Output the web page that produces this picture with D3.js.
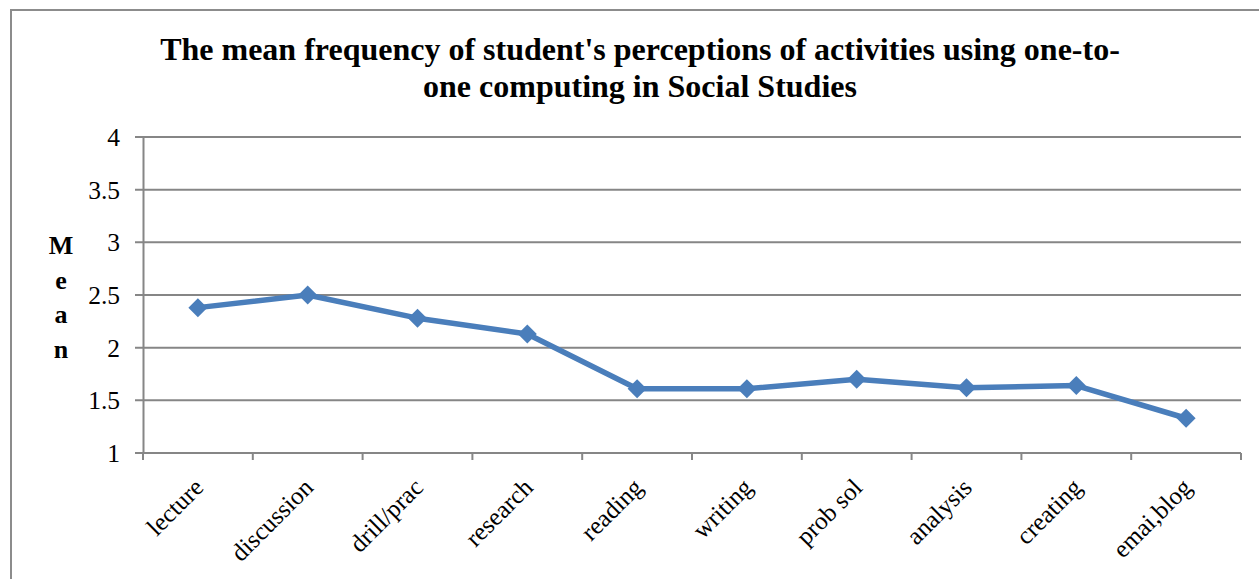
<!DOCTYPE html>
<html>
<head>
<meta charset="utf-8">
<script src="https://cdn.jsdelivr.net/npm/d3@7"></script>
<style>
  html, body { margin: 0; padding: 0; background: #fff; }
  svg { display: block; font-family: "Liberation Serif", "Times New Roman", serif; }
</style>
</head>
<body>
<svg id="chart" width="1259" height="579"></svg>
<script>
// Activities and their mean frequency ratings
const categories = ["lecture", "discussion", "drill/prac", "research", "reading",
                    "writing", "prob sol", "analysis", "creating", "emai,blog"];
const means = [2.38, 2.50, 2.28, 2.13, 1.61, 1.61, 1.70, 1.62, 1.64, 1.33];
const yTicks = [1, 1.5, 2, 2.5, 3, 3.5, 4];
const titleLines = ["The mean frequency of student's perceptions of activities using one-to-",
                    "one computing in Social Studies"];
const yAxisLetters = ["M", "e", "a", "n"];

const svg = d3.select("#chart");
const margin = { left: 143, right: 1241, top: 137, bottom: 453 };
const gridColor = "#868686";
const lineColor = "#4a7ebb";

// Chart area border
svg.append("rect")
  .attr("x", 11).attr("y", 10)
  .attr("width", 1300).attr("height", 700)
  .attr("fill", "none")
  .attr("stroke", "#8c8c8c")
  .attr("stroke-width", 2);

// Title
svg.append("g").selectAll("text")
  .data(titleLines)
  .join("text")
  .attr("x", 640)
  .attr("y", (d, i) => 60 + i * 37)
  .attr("text-anchor", "middle")
  .attr("font-weight", "bold")
  .attr("font-size", 32)
  .attr("fill", "#000")
  .text(d => d);

const x = d3.scaleBand().domain(categories).range([margin.left, margin.right]);
const y = d3.scaleLinear().domain([1, 4]).range([margin.bottom, margin.top]);

// Horizontal gridlines
svg.append("g").selectAll("line")
  .data(yTicks)
  .join("line")
  .attr("x1", margin.left - 8).attr("x2", margin.right)
  .attr("y1", d => y(d)).attr("y2", d => y(d))
  .attr("stroke", gridColor).attr("stroke-width", 2);

// Y axis
const yAxis = svg.append("g")
  .attr("transform", `translate(${margin.left},0)`)
  .call(d3.axisLeft(y).tickValues(yTicks).tickFormat(d3.format("")).tickSize(0).tickPadding(23));
yAxis.select(".domain").attr("stroke", gridColor).attr("stroke-width", 2);
yAxis.selectAll("text")
  .attr("font-family", "Liberation Serif, serif")
  .attr("font-size", 25.5)
  .attr("fill", "#000")
  .attr("dy", "0.33em");

// X axis with ticks at band edges
const xAxis = svg.append("g")
  .attr("transform", `translate(0,${margin.bottom})`);
xAxis.append("line")
  .attr("x1", margin.left).attr("x2", margin.right)
  .attr("stroke", gridColor).attr("stroke-width", 2);
const edges = categories.map(c => x(c)).concat([x(categories[categories.length - 1]) + x.bandwidth()]);
xAxis.selectAll("line.tick")
  .data(edges)
  .join("line")
  .attr("class", "tick")
  .attr("x1", d => d).attr("x2", d => d)
  .attr("y1", 0).attr("y2", 7)
  .attr("stroke", gridColor).attr("stroke-width", 2);

// Rotated category labels
xAxis.selectAll("text")
  .data(categories)
  .join("text")
  .attr("transform", d => `translate(${x(d) + x.bandwidth() / 2 + 7},${36}) rotate(-45)`)
  .attr("text-anchor", "end")
  .attr("font-size", 25)
  .attr("fill", "#000")
  .text(d => d);

// Vertical "Mean" axis title
svg.append("g").selectAll("text")
  .data(yAxisLetters)
  .join("text")
  .attr("x", 61)
  .attr("y", (d, i) => 254 + i * 34.5)
  .attr("text-anchor", "middle")
  .attr("font-weight", "bold")
  .attr("font-size", 26)
  .attr("fill", "#000")
  .text(d => d);

// Series line
const cx = d => x(d) + x.bandwidth() / 2;
svg.append("path")
  .datum(categories.map((c, i) => [cx(c), y(means[i])]))
  .attr("fill", "none")
  .attr("stroke", lineColor)
  .attr("stroke-width", 5.5)
  .attr("stroke-linejoin", "round")
  .attr("d", d3.line());

// Diamond markers
svg.append("g").selectAll("path")
  .data(categories)
  .join("path")
  .attr("transform", (d, i) => `translate(${cx(d)},${y(means[i])})`)
  .attr("d", d3.symbol().type(d3.symbolDiamond2).size(230))
  .attr("fill", lineColor);
</script>
</body>
</html>
